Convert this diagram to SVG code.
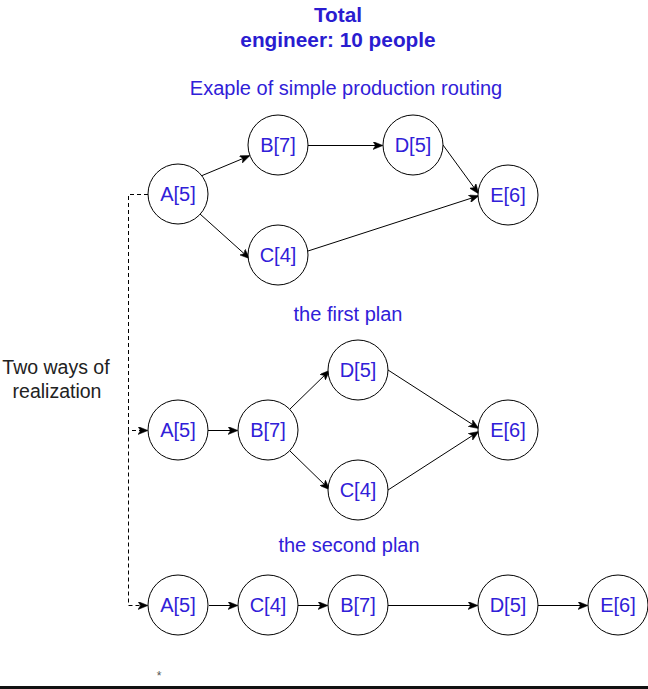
<svg xmlns="http://www.w3.org/2000/svg" width="648" height="689" viewBox="0 0 648 689">
<style>
.n circle{fill:#fff;stroke:#000;stroke-width:1}
.n text{font-family:"Liberation Sans",Arial,sans-serif;font-size:20px;fill:#3020d8;text-anchor:middle}
.lbl{font-family:"Liberation Sans",Arial,sans-serif;font-size:20px;fill:#3020d8;text-anchor:middle}
.ttl{font-family:"Liberation Sans",Arial,sans-serif;font-size:20.8px;font-weight:bold;fill:#2a1cd0;text-anchor:middle}
.e{fill:none;stroke:#000;stroke-width:1;marker-end:url(#arr)}
.d{fill:none;stroke:#000;stroke-width:1;stroke-dasharray:4 3}
</style>
<defs>
<marker id="arr" markerUnits="userSpaceOnUse" viewBox="0 0 10 8" refX="9" refY="4" markerWidth="10" markerHeight="8" orient="auto">
<path d="M0,0 L10,4 L0,8 L2.5,4 z" fill="#000" stroke="#000" stroke-width="0.5"/>
</marker>
</defs>
<rect width="648" height="689" fill="#fff"/>
<text class="ttl" x="338" y="22">Total</text>
<text class="ttl" x="338" y="47">engineer: 10 people</text>
<text class="lbl" x="346" y="95">Exaple of simple production routing</text>
<text class="lbl" x="348" y="321">the first plan</text>
<text class="lbl" x="349" y="552">the second plan</text>
<text x="56" y="374" font-family="'Liberation Sans',Arial,sans-serif" font-size="19.5" fill="#222" text-anchor="middle">Two ways of</text>
<text x="57" y="398" font-family="'Liberation Sans',Arial,sans-serif" font-size="19.5" fill="#222" text-anchor="middle">realization</text>
<g id="connectors">
<path class="d" d="M148,194.5 H128.5 V430.5 H147" marker-end="url(#arr)"/>
<path class="d" d="M128.5,430.5 V605.5 H147" marker-end="url(#arr)"/>
<path class="e" d="M201,176 L249,156"/>
<path class="e" d="M200,214 L249,258"/>
<path class="e" d="M308,145.5 L382,145.5"/>
<path class="e" d="M443,145 L478,193"/>
<path class="e" d="M308,251 L478,196"/>
<path class="e" d="M208,430.5 L237,430.5"/>
<path class="e" d="M290,409 L329,371"/>
<path class="e" d="M290,451 L329,489"/>
<path class="e" d="M388,370 L478,428"/>
<path class="e" d="M388,490 L478,432"/>
<path class="e" d="M209,605.5 L237,605.5"/>
<path class="e" d="M298,605.5 L327,605.5"/>
<path class="e" d="M388,605.5 L477,605.5"/>
<path class="e" d="M538,605.5 L587,605.5"/>
</g>
<g id="r1A" class="n"><circle cx="178" cy="194" r="30"/><text x="178" y="201">A[5]</text></g>
<g id="r1B" class="n"><circle cx="278" cy="145" r="30"/><text x="278" y="152">B[7]</text></g>
<g id="r1D" class="n"><circle cx="413" cy="145" r="30"/><text x="413" y="152">D[5]</text></g>
<g id="r1C" class="n"><circle cx="278" cy="255" r="30"/><text x="278" y="262">C[4]</text></g>
<g id="r1E" class="n"><circle cx="508" cy="195" r="30"/><text x="508" y="202">E[6]</text></g>
<g id="r2A" class="n"><circle cx="178" cy="430" r="30"/><text x="178" y="437">A[5]</text></g>
<g id="r2B" class="n"><circle cx="268" cy="430" r="30"/><text x="268" y="437">B[7]</text></g>
<g id="r2D" class="n"><circle cx="358" cy="370" r="30"/><text x="358" y="377">D[5]</text></g>
<g id="r2C" class="n"><circle cx="358" cy="490" r="30"/><text x="358" y="497">C[4]</text></g>
<g id="r2E" class="n"><circle cx="508" cy="430" r="30"/><text x="508" y="437">E[6]</text></g>
<g id="r3A" class="n"><circle cx="178" cy="605" r="30"/><text x="178" y="612">A[5]</text></g>
<g id="r3C" class="n"><circle cx="268" cy="605" r="30"/><text x="268" y="612">C[4]</text></g>
<g id="r3B" class="n"><circle cx="358" cy="605" r="30"/><text x="358" y="612">B[7]</text></g>
<g id="r3D" class="n"><circle cx="508" cy="605" r="30"/><text x="508" y="612">D[5]</text></g>
<g id="r3E" class="n"><circle cx="618" cy="605" r="30"/><text x="618" y="612">E[6]</text></g>
<text x="159" y="680" font-family="'Liberation Sans',Arial,sans-serif" font-size="12" fill="#555" text-anchor="middle">*</text>
<rect x="0" y="686" width="648" height="3" fill="#111"/>
</svg>
